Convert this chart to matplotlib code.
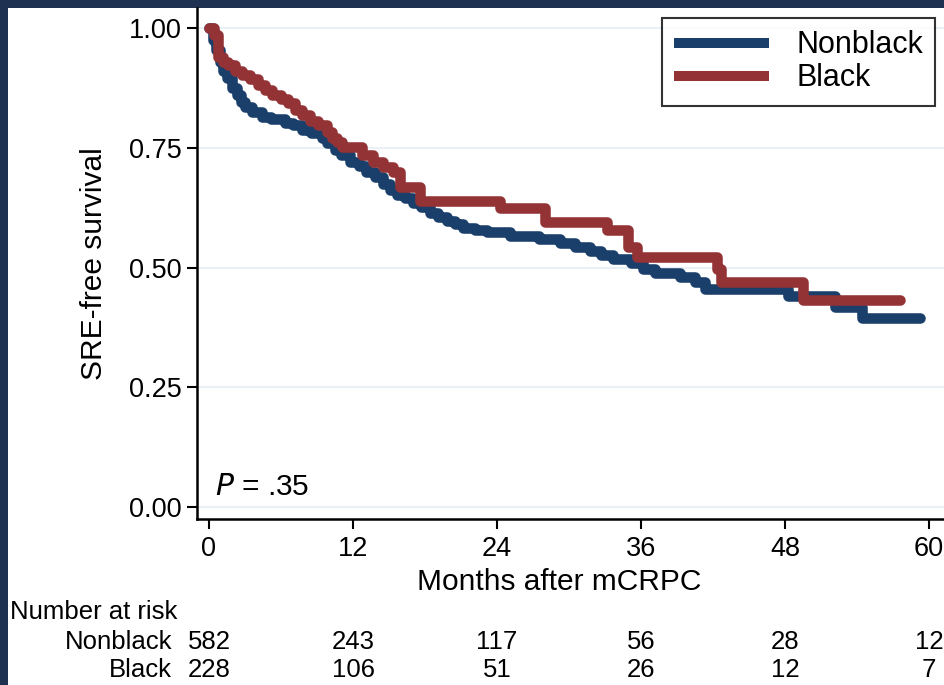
import matplotlib
matplotlib.use("Agg")
import matplotlib.transforms as mtransforms
from matplotlib import pyplot as plt
from matplotlib.patches import Rectangle

# Kaplan-Meier step data (months, survival after step)
nonblack_t = [0, 0.3, 0.6, 0.9, 1.2, 1.5, 1.9, 2.3, 2.7, 3.0, 3.6, 4.4, 5.2,
              6.3, 7.0, 7.75, 8.5, 9.4, 9.8, 10.5, 11.0, 11.75, 12.5, 13.1,
              13.8, 14.5, 15.1, 15.7, 16.3, 17.0, 17.7, 18.4, 19.1, 19.8,
              20.5, 21.2, 22.2, 23.2, 25.1, 27.5, 29.25, 30.5, 31.75, 32.7,
              33.7, 35.2, 36.2, 37.2, 39.25, 40.5, 41.3, 48.25, 52.2, 54.4,
              59.25]
nonblack_s = [1.0, 0.975, 0.955, 0.93, 0.91, 0.895, 0.875, 0.86, 0.845,
              0.835, 0.825, 0.815, 0.81, 0.802, 0.797, 0.787, 0.78, 0.77,
              0.76, 0.745, 0.735, 0.72, 0.712, 0.70, 0.69, 0.675, 0.662,
              0.652, 0.645, 0.635, 0.626, 0.614, 0.605, 0.597, 0.59, 0.583,
              0.578, 0.574, 0.566, 0.56, 0.551, 0.543, 0.535, 0.527, 0.518,
              0.51, 0.497, 0.489, 0.48, 0.47, 0.455, 0.44, 0.418, 0.394,
              0.394]

black_t = [0, 0.4, 0.75, 1.2, 1.6, 2.2, 2.75, 3.4, 4.1, 4.7, 5.25, 6.0, 6.6,
           7.2, 7.75, 8.4, 9.1, 9.8, 10.25, 10.7, 11.1, 12.75, 13.7, 14.5,
           15.3, 15.9, 17.6, 24.25, 28.0, 33.2, 34.9, 35.7, 42.3, 42.7, 49.5,
           57.6]
black_s = [1.0, 0.985, 0.94, 0.93, 0.923, 0.91, 0.902, 0.893, 0.881, 0.87,
           0.86, 0.852, 0.843, 0.83, 0.818, 0.807, 0.797, 0.783, 0.77, 0.762,
           0.752, 0.735, 0.72, 0.71, 0.70, 0.668, 0.64, 0.624, 0.595, 0.578,
           0.543, 0.522, 0.497, 0.47, 0.432, 0.432]

groups = ["Nonblack", "Black"]
colors = ["#1a3f6b", "#943336"]

risk_times = [0, 12, 24, 36, 48, 60]
nonblack_risk = [582, 243, 117, 56, 28, 12]
black_risk = [228, 106, 51, 26, 12, 7]

x_ticks = [0, 12, 24, 36, 48, 60]
y_ticks = [0.0, 0.25, 0.5, 0.75, 1.0]

plt.rcParams["font.family"] = ["Liberation Sans", "DejaVu Sans"]
fs_tick = 19.5
fs_label = 21.5
fs_leg = 22
fs_risk = 18.5

fig = plt.figure(figsize=(9.44, 6.85), dpi=100)
fig.patch.set_facecolor("#1f3150")
# white panel inside the dark frame (top and left bands stay dark)
fig.patches.append(Rectangle((8 / 944, 0), 1, 1 - 8 / 685,
                             transform=fig.transFigure, facecolor="white",
                             edgecolor="none", zorder=-1))

ax = fig.add_axes([197 / 944, 166 / 685, 747 / 944, 511 / 685])
ax.set_facecolor("white")

for t, s, name, c in zip([nonblack_t, black_t], [nonblack_s, black_s],
                         groups, colors):
    ax.plot(t, s, drawstyle="steps-post", color=c, lw=7.6, label=name,
            solid_capstyle="round", solid_joinstyle="round")

ax.set_xlim(-1, 61.25)
ax.set_ylim(-0.025, 1.042)
ax.set_xticks(x_ticks)
ax.set_yticks(y_ticks)
ax.set_yticklabels([f"{v:.2f}" for v in y_ticks])
ax.tick_params(axis="both", labelsize=fs_tick, length=7, width=1.5,
               direction="out")
ax.tick_params(axis="x", pad=5)
ax.tick_params(axis="y", pad=4)
ax.grid(axis="y", color="#eaf0f5", linewidth=1.5)
ax.set_axisbelow(True)
for side in ["top", "right"]:
    ax.spines[side].set_visible(False)
for side in ["left", "bottom"]:
    ax.spines[side].set_linewidth(1.8)

ax.set_ylabel("SRE-free survival", fontsize=fs_label)
ax.yaxis.set_label_coords(-0.119, 0.5)
ax.set_xlabel("Months after mCRPC", fontsize=fs_label)
ax.xaxis.set_label_coords(0.485, -0.095)

ax.text(0.5, 0.042, r"$\it{P}$ = .35", fontsize=fs_label, va="center",
        ha="left")

leg = ax.legend(loc="upper right", bbox_to_anchor=(0.988, 0.98),
                borderaxespad=0, fontsize=fs_leg, frameon=True,
                fancybox=False, edgecolor="black", handlelength=3.1,
                handletextpad=0.9, labelspacing=0.1, borderpad=0.4)
leg.get_frame().set_linewidth(1.5)
for line in leg.get_lines():
    line.set_linewidth(7.2)
    line.set_solid_capstyle("butt")

# number-at-risk table
trans = mtransforms.blended_transform_factory(ax.transData, fig.transFigure)
fig.text(10 / 944, 1 - 612 / 685, "Number at risk", fontsize=fs_risk,
         ha="left", va="center")
for name, risk, yp in zip(groups, [nonblack_risk, black_risk], [642, 670]):
    fy = 1 - yp / 685
    fig.text(172 / 944, fy, name, fontsize=fs_risk, ha="right", va="center")
    for t, n in zip(risk_times, risk):
        ax.text(t, fy, str(n), transform=trans, fontsize=fs_risk,
                ha="center", va="center", clip_on=False)

fig.savefig("out.png", dpi=100, facecolor=fig.get_facecolor())
